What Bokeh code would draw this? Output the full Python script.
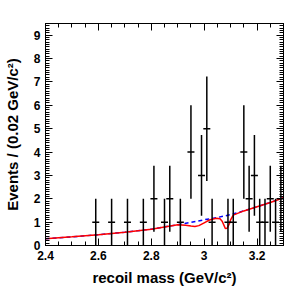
import numpy as np
from bokeh.plotting import figure
from bokeh.models import Range1d, FixedTicker, LinearAxis
from bokeh.embed import file_html
from bokeh.resources import INLINE

# ---- data ----
bin_centers = [2.59, 2.65, 2.71, 2.77, 2.81, 2.85, 2.87, 2.91, 2.95, 2.99, 3.01,
               3.03, 3.09, 3.11, 3.15, 3.17, 3.19, 3.21, 3.23, 3.25, 3.27, 3.29]
counts = [1, 1, 1, 1, 2, 1, 2, 1, 4, 3, 5,
          1, 1, 1, 4, 2, 3, 1, 1, 2, 1, 2]

bkg_x = [2.40, 2.50, 2.60, 2.70, 2.80, 2.90, 2.95, 3.00, 3.05, 3.10, 3.15, 3.20, 3.25, 3.30]
bkg_y = [0.29, 0.37, 0.46, 0.57, 0.70, 0.89, 0.99, 1.10, 1.20, 1.32, 1.48, 1.66, 1.84, 2.04]

tot_x = [2.40, 2.50, 2.60, 2.70, 2.80, 2.90, 2.93, 2.95, 2.965, 2.98, 3.00, 3.02, 3.045,
         3.06, 3.068, 3.075, 3.08, 3.087, 3.095, 3.10, 3.11, 3.15, 3.20, 3.25, 3.30]
tot_y = [0.29, 0.37, 0.46, 0.57, 0.70, 0.89, 0.87, 0.83, 0.81, 0.85, 0.97, 1.09, 1.17,
         1.14, 1.04, 0.86, 0.73, 0.74, 0.92, 1.10, 1.30, 1.48, 1.66, 1.84, 2.04]

x_ticks = [2.4, 2.6, 2.8, 3.0, 3.2]
x_tick_labels = ["2.4", "2.6", "2.8", "3", "3.2"]
y_ticks = [0, 1, 2, 3, 4, 5, 6, 7, 8, 9]
y_tick_labels = ["0", "1", "2", "3", "4", "5", "6", "7", "8", "9"]

x_title = "recoil mass (GeV/c\u00b2)"
y_title = "Events / (0.02 GeV/c\u00b2)"

# ---- figure ----
FONT = "Liberation Sans"
p = figure(frame_width=238, frame_height=222, output_backend="svg", toolbar_location=None,
           x_range=Range1d(2.4, 3.3), y_range=Range1d(0, 9.5),
           min_border_left=44, min_border_top=23, min_border_right=6, min_border_bottom=43,
           background_fill_color="white", border_fill_color="white")
p.outline_line_color = "black"
p.grid.visible = False

x_minor = list(np.round(np.arange(2.4, 3.3001, 0.05), 2))
y_minor = list(np.round(np.arange(0, 9.5001, 0.1), 1))


def style(ax, ticks, minor, labels, show):
    ax.ticker = FixedTicker(ticks=ticks, minor_ticks=minor)
    ax.major_tick_in = 7
    ax.major_tick_out = 0
    ax.minor_tick_in = 4
    ax.minor_tick_out = 0
    ax.axis_line_color = "black"
    ax.major_tick_line_color = "black"
    ax.minor_tick_line_color = "black"
    ax.major_label_text_font = FONT
    ax.major_label_text_font_style = "bold"
    ax.major_label_text_font_size = "12px"
    ax.major_label_text_color = "black"
    if show:
        ax.major_label_overrides = dict(zip(ticks, labels))
        ax.axis_label_text_font = FONT
        ax.axis_label_text_font_style = "bold"
        ax.axis_label_text_font_size = "15px"
        ax.axis_label_text_color = "black"
    else:
        ax.major_label_overrides = {t: "" for t in ticks}
        ax.major_label_standoff = 0


style(p.xaxis[0], x_ticks, x_minor, x_tick_labels, True)
style(p.yaxis[0], y_ticks, y_minor, y_tick_labels, True)
p.xaxis[0].axis_label = x_title
p.yaxis[0].axis_label = y_title
p.xaxis[0].major_label_standoff = 5
p.xaxis[0].axis_label_standoff = 6
p.yaxis[0].major_label_standoff = 5
p.yaxis[0].axis_label_standoff = 10

top = LinearAxis()
right = LinearAxis()
style(top, x_ticks, x_minor, x_tick_labels, False)
style(right, y_ticks, y_minor, y_tick_labels, False)
p.add_layout(top, "above")
p.add_layout(right, "right")

# ---- curves ----
p.line(bkg_x, bkg_y, line_color="#0000ff", line_width=1.5, line_dash="4 3")
p.line(tot_x, tot_y, line_color="#ff0000", line_width=1.5)

# ---- data points with sqrt(N) errors ----
xc = np.array(bin_centers)
n = np.array(counts, dtype=float)
err = np.sqrt(n)
lo = np.clip(n - err, 0, None)
hi = n + err
p.segment(x0=xc, y0=lo, x1=xc, y1=hi, line_color="black", line_width=1.5)
p.scatter(xc, n, marker="dash", size=7, line_color="black", line_width=1.5)

open("out.html", "w").write(file_html(p, INLINE))
